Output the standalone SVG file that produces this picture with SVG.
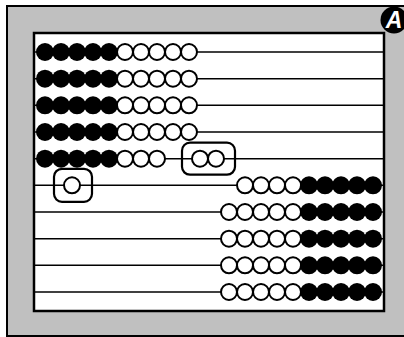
<svg xmlns="http://www.w3.org/2000/svg" width="404" height="337" viewBox="0 0 404 337">
<style>
.rod{stroke:#000;stroke-width:1.6;fill:none}
.b{fill:#000}
.w{fill:#fff;stroke:#000;stroke-width:2}
.box{fill:none;stroke:#000;stroke-width:2.2}
</style>
<defs>
<circle id="bk" r="9" class="b"/>
<circle id="wt" r="8" class="w"/>
</defs>
<rect x="7" y="6" width="410" height="330" fill="#c0c0c0" stroke="#000" stroke-width="2"/>
<rect x="34" y="33" width="350" height="278" fill="#fff" stroke="#000" stroke-width="2.5"/>
<g id="rods">
<line class="rod" x1="34" y1="52" x2="384" y2="52"/>
<line class="rod" x1="34" y1="78.7" x2="384" y2="78.7"/>
<line class="rod" x1="34" y1="105.3" x2="384" y2="105.3"/>
<line class="rod" x1="34" y1="132" x2="384" y2="132"/>
<line class="rod" x1="34" y1="158.7" x2="384" y2="158.7"/>
<line class="rod" x1="34" y1="185.3" x2="384" y2="185.3"/>
<line class="rod" x1="34" y1="212" x2="384" y2="212"/>
<line class="rod" x1="34" y1="238.7" x2="384" y2="238.7"/>
<line class="rod" x1="34" y1="265.3" x2="384" y2="265.3"/>
<line class="rod" x1="34" y1="292" x2="384" y2="292"/>
</g>
<g id="row1" transform="translate(0,52)">
<use href="#bk" x="45"/><use href="#bk" x="61"/><use href="#bk" x="77"/><use href="#bk" x="93"/><use href="#bk" x="109"/>
<use href="#wt" x="125"/><use href="#wt" x="141"/><use href="#wt" x="157"/><use href="#wt" x="173"/><use href="#wt" x="189"/>
</g>
<g id="row2" transform="translate(0,78.7)">
<use href="#bk" x="45"/><use href="#bk" x="61"/><use href="#bk" x="77"/><use href="#bk" x="93"/><use href="#bk" x="109"/>
<use href="#wt" x="125"/><use href="#wt" x="141"/><use href="#wt" x="157"/><use href="#wt" x="173"/><use href="#wt" x="189"/>
</g>
<g id="row3" transform="translate(0,105.3)">
<use href="#bk" x="45"/><use href="#bk" x="61"/><use href="#bk" x="77"/><use href="#bk" x="93"/><use href="#bk" x="109"/>
<use href="#wt" x="125"/><use href="#wt" x="141"/><use href="#wt" x="157"/><use href="#wt" x="173"/><use href="#wt" x="189"/>
</g>
<g id="row4" transform="translate(0,132)">
<use href="#bk" x="45"/><use href="#bk" x="61"/><use href="#bk" x="77"/><use href="#bk" x="93"/><use href="#bk" x="109"/>
<use href="#wt" x="125"/><use href="#wt" x="141"/><use href="#wt" x="157"/><use href="#wt" x="173"/><use href="#wt" x="189"/>
</g>
<g id="row5" transform="translate(0,158.7)">
<use href="#bk" x="45"/><use href="#bk" x="61"/><use href="#bk" x="77"/><use href="#bk" x="93"/><use href="#bk" x="109"/>
<use href="#wt" x="125"/><use href="#wt" x="141"/><use href="#wt" x="157"/>
<rect class="box" x="182" y="-16" width="53" height="32" rx="8"/>
<use href="#wt" x="200"/><use href="#wt" x="216"/>
</g>
<g id="row6" transform="translate(0,185.3)">
<rect class="box" x="54" y="-16.5" width="38" height="33" rx="8"/>
<use href="#wt" x="72"/>
<use href="#wt" x="245"/><use href="#wt" x="261"/><use href="#wt" x="277"/><use href="#wt" x="293"/>
<use href="#bk" x="309"/><use href="#bk" x="325"/><use href="#bk" x="341"/><use href="#bk" x="357"/><use href="#bk" x="373"/>
</g>
<g id="row7" transform="translate(0,212)">
<use href="#wt" x="229"/><use href="#wt" x="245"/><use href="#wt" x="261"/><use href="#wt" x="277"/><use href="#wt" x="293"/>
<use href="#bk" x="309"/><use href="#bk" x="325"/><use href="#bk" x="341"/><use href="#bk" x="357"/><use href="#bk" x="373"/>
</g>
<g id="row8" transform="translate(0,238.7)">
<use href="#wt" x="229"/><use href="#wt" x="245"/><use href="#wt" x="261"/><use href="#wt" x="277"/><use href="#wt" x="293"/>
<use href="#bk" x="309"/><use href="#bk" x="325"/><use href="#bk" x="341"/><use href="#bk" x="357"/><use href="#bk" x="373"/>
</g>
<g id="row9" transform="translate(0,265.3)">
<use href="#wt" x="229"/><use href="#wt" x="245"/><use href="#wt" x="261"/><use href="#wt" x="277"/><use href="#wt" x="293"/>
<use href="#bk" x="309"/><use href="#bk" x="325"/><use href="#bk" x="341"/><use href="#bk" x="357"/><use href="#bk" x="373"/>
</g>
<g id="row10" transform="translate(0,292)">
<use href="#wt" x="229"/><use href="#wt" x="245"/><use href="#wt" x="261"/><use href="#wt" x="277"/><use href="#wt" x="293"/>
<use href="#bk" x="309"/><use href="#bk" x="325"/><use href="#bk" x="341"/><use href="#bk" x="357"/><use href="#bk" x="373"/>
</g>
<g id="badge">
<circle cx="394" cy="20" r="13.5" fill="#000"/>
<text x="394" y="28" text-anchor="middle" font-family="Liberation Sans, Arial, sans-serif" font-weight="bold" font-style="italic" font-size="23" fill="#fff">A</text>
</g>
</svg>
